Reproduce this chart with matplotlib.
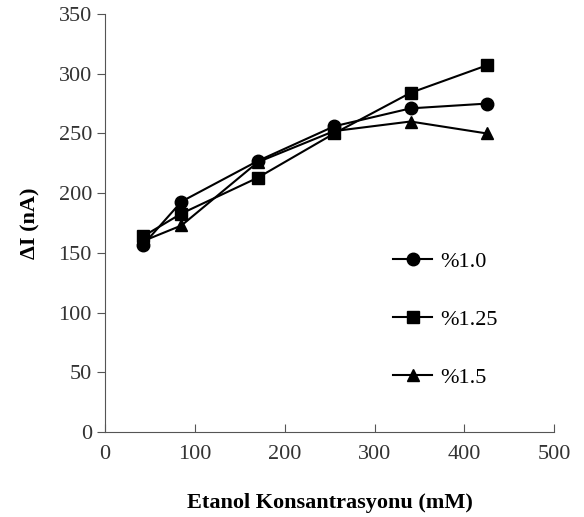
import matplotlib
matplotlib.use('Agg')
import matplotlib.pyplot as plt
from matplotlib import rcParams

rcParams['font.family'] = 'Liberation Serif'

konsantrasyon = [42.5, 85, 170, 255, 340, 425]
seri_10 = [157, 193, 227, 256, 271, 275]
seri_125 = [164, 183, 213, 250, 284, 307]
seri_15 = [160, 173, 226, 252, 260, 250]
etiketler = ['%1.0', '%1.25', '%1.5']

fig = plt.figure(figsize=(5.84, 5.17), dpi=100)
ax = fig.add_axes([0.18, 0.164, 0.769, 0.809])

ax.plot(konsantrasyon, seri_10, marker='o', color='black', linewidth=1.5, markersize=9, label=etiketler[0])
ax.plot(konsantrasyon, seri_125, marker='s', color='black', linewidth=1.5, markersize=8.5, label=etiketler[1])
ax.plot(konsantrasyon, seri_15, marker='^', color='black', linewidth=1.5, markersize=9, label=etiketler[2])

ax.set_xlim(0, 500)
ax.set_ylim(0, 350)
ax.set_xticks(range(0, 501, 100))
ax.set_yticks(range(0, 351, 50))
ax.spines['top'].set_visible(False)
ax.spines['right'].set_visible(False)
ax.spines['left'].set_color('#555555')
ax.spines['bottom'].set_color('#555555')
ax.tick_params(axis='x', direction='in', length=6, color='#555555', labelsize=16, pad=9, labelcolor='#333333')
ax.tick_params(axis='y', direction='out', length=6, color='#555555', labelsize=16, labelcolor='#333333')

ax.set_xlabel('Etanol Konsantrasyonu (mM)', fontsize=16, fontweight='bold', labelpad=21)
ax.set_ylabel('ΔI (nA)', fontsize=16, fontweight='bold', labelpad=13)

ax.legend(loc='upper left', bbox_to_anchor=(0.597, 0.48), frameon=False, fontsize=16,
          handlelength=1.75, labelspacing=1.68, handletextpad=0.35)

plt.savefig('out.png', dpi=100)
